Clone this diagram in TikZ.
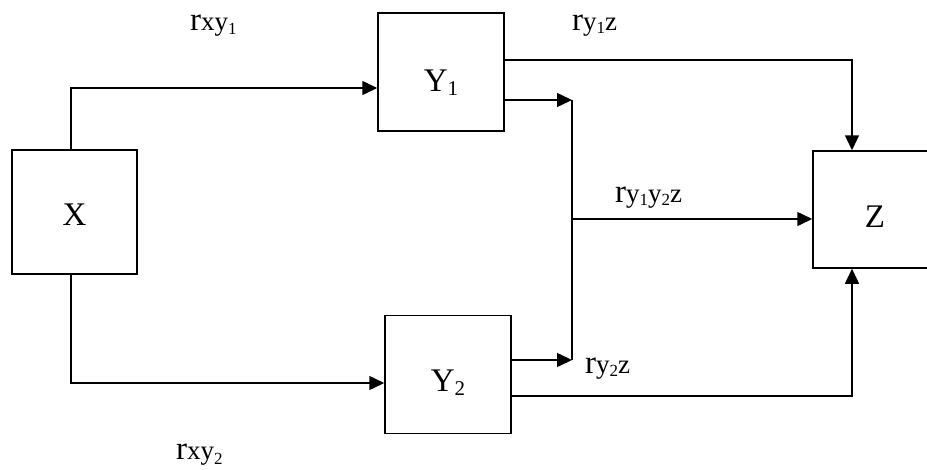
\documentclass[tikz,border=0pt]{standalone}
\usepackage{fontspec}
\setmainfont{Liberation Serif}
\usetikzlibrary{arrows.meta,calc}
\newcommand{\bigR}{{\fontsize{33}{33}\selectfont r}}
\newcommand{\midT}[1]{{\fontsize{27}{27}\selectfont #1}}
\newcommand{\lowsub}[2]{\raisebox{-#2}{\fontsize{17}{17}\selectfont #1}}
\newcommand{\boxsub}[1]{\raisebox{-4pt}{\fontsize{21}{21}\selectfont #1}}
\begin{document}
\begin{tikzpicture}[x=1pt,y=-1pt,
  box/.style={draw,line width=1.5pt,rectangle,inner sep=0pt,text depth=0pt,
    font=\fontsize{33}{33}\selectfont},
  arr/.style={line width=1.5pt,-{Triangle[length=15pt,width=14pt]}},
  ln/.style={line width=1.5pt},
  lbl/.style={inner sep=0pt,anchor=base west}]
\clip (0,0) rectangle (927,469);
\fill[white] (0,0) rectangle (927,469);
% boxes
\node[box,minimum width=125pt,minimum height=124pt,text height=26pt] (X) at (74.5,212) {X};
\node[box,minimum width=126pt,minimum height=118pt,text height=38pt] (Y1) at (441,72) {Y\boxsub{1}};
\node[box,minimum width=126pt,minimum height=118pt,text height=33pt] (Y2) at (448,374.5) {Y\boxsub{2}};
\node[box,minimum width=124pt,minimum height=117pt,text height=35pt] (Z) at (875,209.5) {Z};
% junction coordinates
\coordinate (j1) at (572,100);
\coordinate (j2) at (572,360);
\coordinate (jm) at (572,219);
% connectors
\draw[arr] ([xshift=-3.5pt]X.north) |- ($(Y1.west)+(0,16)$);
\draw[arr] ([xshift=-3.5pt]X.south) |- ($(Y2.west)+(0,8.5)$);
\draw[arr] ($(Y1.east)+(0,-12)$) -| ([xshift=-23pt]Z.north);
\draw[arr] ($(Y1.east)+(0,28)$) -- (j1);
\draw[ln] (j1) -- (j2);
\draw[arr] ($(Y2.east)+(0,-14.5)$) -- (j2);
\draw[arr] (jm) -- (Z.west |- jm);
\draw[arr] ($(Y2.east)+(0,21.5)$) -| ([xshift=-23pt]Z.south);
% labels
\node[lbl] (lxy1) at (190,30) {\bigR\midT{xy}\lowsub{1}{4pt}};
\node[lbl] (ly1z) at (572,30) {\bigR\midT{y}\lowsub{1}{3pt}\midT{z}};
\node[lbl] (ly1y2z) at (615,202) {\bigR\midT{y}\lowsub{1}{3pt}\midT{y}\lowsub{2}{3pt}\midT{z}};
\node[lbl] (ly2z) at (585,373) {\bigR\midT{y}\lowsub{2}{3pt}\midT{z}};
\node[lbl] (lxy2) at (176,459) {\bigR\midT{xy}\lowsub{2}{5pt}};
\end{tikzpicture}
\end{document}
